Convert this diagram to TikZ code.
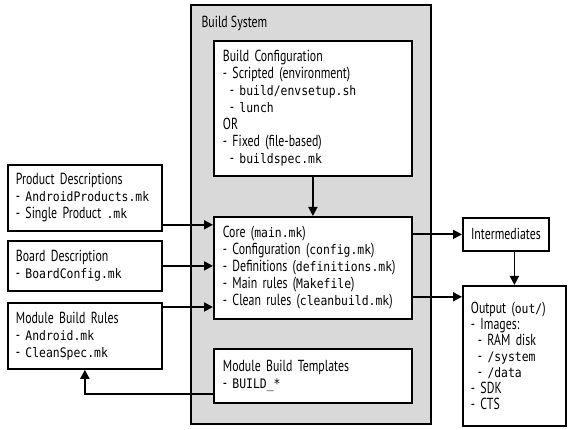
\documentclass[tikz,border=0pt]{standalone}
\usepackage{fontspec}
\setmainfont{PT Sans}[FakeStretch=0.74]
\setmonofont{DejaVu Sans Mono}[Scale=0.82, FakeStretch=0.87]
\usetikzlibrary{arrows.meta,positioning,calc}
\definecolor{sysgray}{RGB}{217,217,217}
\tikzset{sysbox/.style={draw, fill=sysgray, line width=1.8pt, anchor=north west, inner sep=0pt},
         blk/.style={draw, fill=white, line width=1.8pt, anchor=north west, align=left,
             inner xsep=9pt, inner ysep=0pt, text width=#1},
         flow/.style={line width=1.8pt, -{Triangle[length=9pt,width=9pt]}}}
\newcommand{\fn}[1]{{\ttfamily #1}}
\newcommand{\sub}{\hspace*{7pt}}

\begin{document}
\begin{tikzpicture}[x=1pt, y=-1pt, font=\fontsize{16}{17}\selectfont]
  \useasboundingbox (0,0) rectangle (573,430);
  % build system frame
  \node[sysbox, minimum width=240pt, minimum height=419pt] (sys) at (190,4) {};
  \node[anchor=west] (systitle) at ($(sys.north west)+(8,19)$) {Build System};
  \node[blk=180pt, minimum height=135pt] (bconf) at (213,40)
    {Build Configuration\\- Scripted (environment)\\\sub- \fn{build/envsetup.sh}\\\sub- \fn{lunch}\\OR\\- Fixed (file-based)\\\sub- \fn{buildspec.mk}};
  \node[blk=180pt, minimum height=102pt] (core) at (213,216)
    {Core (\fn{main.mk})\\- Configuration (\fn{config.mk})\\- Definitions (\fn{definitions.mk})\\- Main rules (\fn{Makefile})\\- Clean rules (\fn{cleanbuild.mk})};
  \node[blk=180pt, minimum height=54pt] (tmpl) at (213,348)
    {Module Build Templates\\- \fn{BUILD\_*}};
  % inputs
  \node[blk=138pt, inner xsep=8pt, minimum height=66pt] (prod) at (7,164)
    {Product Descriptions\\- \fn{AndroidProducts.mk}\\- Single Product \fn{.mk}};
  \node[blk=138pt, inner xsep=8pt, minimum height=50pt] (board) at (7,240)
    {Board Description\\- \fn{BoardConfig.mk}};
  \node[blk=138pt, inner xsep=8pt, minimum height=66pt] (mbr) at (7,302)
    {Module Build Rules\\- \fn{Android.mk}\\- \fn{CleanSpec.mk}};
  % outputs
  \node[draw, fill=white, line width=1.8pt, anchor=north west, inner sep=0pt,
        minimum width=86pt, minimum height=33pt] (inter) at (462,217) {Intermediates};
  \node[blk=87pt, inner xsep=8pt, minimum height=140pt, font=\fontsize{16}{16}\selectfont] (out) at (462,285)
    {Output (\fn{out/})\\- Images:\\\sub- RAM disk\\\sub- \fn{/system}\\\sub- \fn{/data}\\- SDK\\- CTS};
  % connectors
  \draw[flow] (bconf.south) -- (core.north);
  \coordinate (prodout) at ($(prod.south east)+(0,-7)$);
  \draw[flow] (prodout) -- (prodout -| core.west);
  \draw[flow] (board.east) -- (board.east -| core.west);
  \coordinate (mbrout) at ($(mbr.north east)+(0,5)$);
  \draw[flow] (mbrout) -- (mbrout -| core.west);
  \coordinate (tmplout) at ($(tmpl.south west)+(0,-10)$);
  \draw[flow] (tmplout) -| (mbr.south);
  \draw[flow] (inter.west -| core.east) -- (inter.west);
  \draw[flow] (out.north |- inter.south) -- (out.north);
  \coordinate (coreout) at ($(core.south east)+(0,-23)$);
  \draw[flow] (coreout) -- (coreout -| out.west);
\end{tikzpicture}
\end{document}
